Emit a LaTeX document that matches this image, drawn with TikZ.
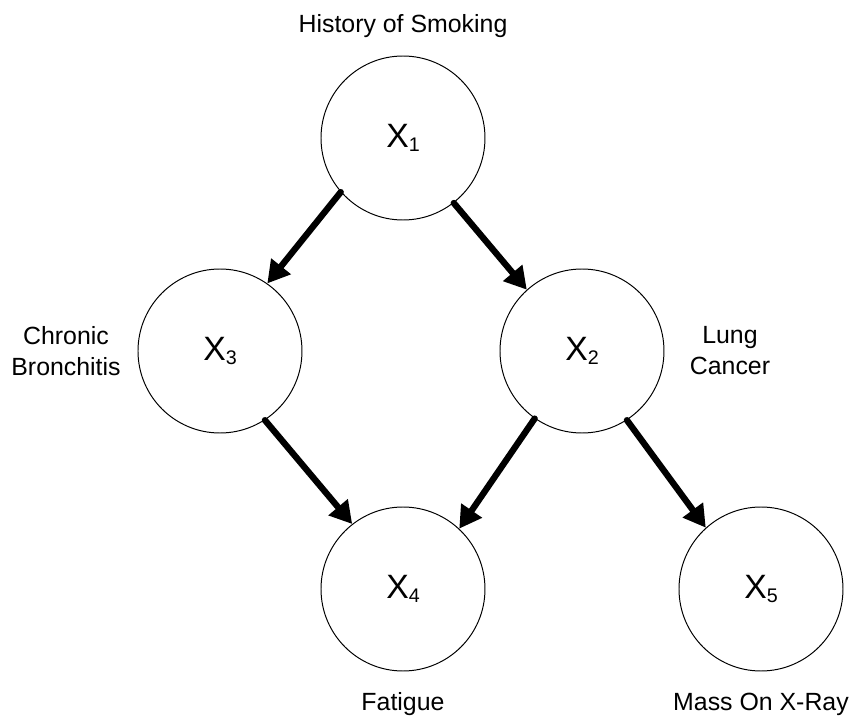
\documentclass[tikz,border=0pt]{standalone}
\usepackage{fontspec}
\setmainfont{Liberation Sans}
\usepackage{tikz}
\usetikzlibrary{arrows.meta,positioning}

\newcommand\lblfont{\fontsize{17.7pt}{22pt}\selectfont}
\newcommand\xv[1]{{\fontsize{24pt}{24pt}\selectfont X}\raisebox{-3pt}{\fontsize{14pt}{14pt}\selectfont #1}}

\begin{document}
\begin{tikzpicture}[
  font=\lblfont,
  var/.style={
    circle,
    draw=black,
    line width=0.7pt,
    minimum size=4.1cm,
    inner sep=0pt
  },
  lbl/.style={align=center, font=\lblfont},
  arrow/.style={-{Triangle[length=0.55cm,width=0.6cm]}, line width=4.5pt, line cap=round},
  on grid
]
\useasboundingbox (-10.075,3.45) rectangle (11.3,-14.475);

\node[var] (x1) at (0,0) {\xv{1}};
\node[var, below left=5.325cm and 4.575cm of x1] (x3) {\xv{3}};
\node[var, below right=5.325cm and 4.475cm of x1] (x2) {\xv{2}};
\node[var, below right=5.95cm and 4.575cm of x3] (x4) {\xv{4}};
\node[var, below right=5.95cm and 4.475cm of x2] (x5) {\xv{5}};

\node[lbl, above=2.625cm of x1, anchor=base] (smoking) {History of Smoking};
\node[lbl, left=3.85cm of x3] (bronchitis) {Chronic\\Bronchitis};
\node[lbl, right=3.7cm of x2] (cancer) {Lung\\Cancer};
\node[lbl, below=3.025cm of x4, anchor=base] (fatigue) {Fatigue};
\node[lbl, below=3.025cm of x5, anchor=base] (xray) {Mass On X-Ray};

\draw[arrow] (x1.221) -- (x3.55);
\draw[arrow] (x1.308) -- (x2.132);
\draw[arrow] (x3.303) -- (x4.128);
\draw[arrow] (x2.235) -- (x4.47);
\draw[arrow] (x2.303) -- (x5.132);
\end{tikzpicture}
\end{document}
